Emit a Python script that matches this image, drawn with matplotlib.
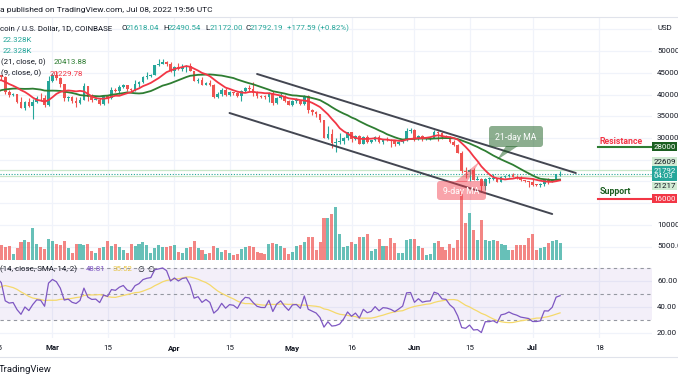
import numpy as np
import pandas as pd
import matplotlib
matplotlib.use("Agg")
import matplotlib.pyplot as plt
import matplotlib.transforms as mtransforms
from matplotlib.patches import FancyBboxPatch, Polygon
from matplotlib.lines import Line2D

plt.rcParams['font.family'] = ['Roboto', 'DejaVu Sans']

# ---------------- data ----------------
# closes before the visible window (Jan 1 - Feb 15, 2022), used only to warm up indicators
warmup_closes = [47730, 47310, 46440, 45830, 43430, 43100, 41560, 41730, 41870, 41830,
                 42740, 43920, 42590, 43080, 43200, 43080, 42220, 42380, 41690, 40720,
                 36470, 35080, 36280, 36680, 36970, 36840, 37160, 37720, 38170, 37920,
                 38480, 38740, 36950, 37340, 41570, 41410, 42410, 43840, 44040, 44370,
                 43540, 42410, 42220, 42070, 42580, 44580]

first_date = '2022-02-16'

opens = [44580, 43950, 40540, 40000, 40100, 38370, 37020, 38260, 37260, 38330, 39220, 39120, 37710,
         43190, 44420, 43920, 42450, 39150, 39400, 38420, 38060, 38740, 41980, 39440, 38730, 38810,
         37790, 39670, 39290, 41120, 40920, 41770, 42240, 41260, 41000, 42370, 42890, 43960, 44330,
         44520, 46850, 47130, 47440, 47070,
         45530, 46280, 45820, 46410, 46580, 45500, 43170, 43440, 42270, 42760, 42160, 39530, 40080,
         41150, 39940, 40550, 40390, 39680, 40800, 41490, 41370, 40480, 39710, 39470, 39450, 40430,
         38110, 39240, 39740, 38600,
         37640, 38470, 38520, 37720, 39690, 36550, 36010, 35470, 34060, 30080, 31010, 28940, 29030,
         29280, 30100, 31300, 29860, 30420, 28700, 30300, 29180, 29430, 30300, 29090, 29650, 29540,
         29200, 28630, 29020, 29450, 31720,
         31790, 29800, 30450, 29700, 29860, 29910, 31370, 31130, 30200, 30110, 29090, 28420, 26580,
         22490, 22140, 22590, 20400, 20460, 19000, 20580, 20580, 20720, 19970, 21100, 21230, 21500,
         21030, 20730, 20270, 20100,
         19940, 19250, 19240, 19300, 20230, 20200, 20550, 21618.04]

highs = [44580, 44190, 40980, 40450, 40140, 39480, 38440, 39250, 38970, 39700, 40300, 39850, 44230,
         44950, 45400, 44100, 42530, 39630, 39680, 39550, 39360, 42600, 42040, 40240, 39350, 39300,
         39920, 39870, 41710, 41470, 42320, 42400, 42300, 41540, 43360, 43020, 44220, 45100, 44800,
         46910, 48190, 48100, 47700, 47600,
         46690, 47180, 47030, 46880, 47200, 45510, 43900, 43960, 42800, 43420, 42420, 40690, 41540,
         41500, 40860, 40700, 40600, 41100, 41760, 42200, 42980, 40800, 39970, 39930, 40620, 40790,
         39450, 40370, 39920, 38800,
         38680, 39150, 38650, 39980, 39840, 36650, 36140, 35500, 34250, 32650, 32170, 30020, 31080,
         30300, 31430, 31300, 30770, 30660, 30520, 30750, 29620, 30470, 30660, 29830, 30200, 29870,
         29380, 29230, 29560, 32200, 32390,
         31970, 30670, 30670, 29950, 30170, 31760, 31560, 31330, 30700, 30380, 29440, 28560, 26900,
         23330, 22770, 22990, 21330, 20760, 20800, 21040, 21720, 20870, 21220, 21530, 21600, 21850,
         21520, 21190, 20420, 20140,
         20870, 19420, 19620, 20320, 20700, 20650, 21810, 22490.54]

lows = [43320, 40130, 39450, 39640, 38000, 36800, 36350, 37050, 34320, 38010, 38600, 37030, 37450,
        42830, 43340, 41840, 38600, 38600, 38080, 37160, 37880, 38660, 38540, 38230, 38660, 37590,
        37580, 38120, 38940, 40530, 40200, 41530, 40910, 40520, 40890, 41770, 42570, 43600, 44080,
        44420, 46650, 46940, 46570, 45210,
        44230, 45680, 45540, 45130, 45360, 43100, 42730, 42110, 42130, 42000, 39200, 39260, 39570,
        39580, 39770, 40010, 39560, 38540, 40580, 40850, 39760, 39180, 39300, 39000, 38200, 37700,
        37880, 38880, 38180, 37590,
        37390, 38050, 37520, 37680, 35860, 35280, 34780, 33720, 30030, 29730, 27700, 26700, 28700,
        28630, 29480, 29090, 29480, 28660, 28680, 28740, 28950, 29240, 28890, 28640, 29310, 28020,
        28240, 28480, 28790, 29290, 31200,
        29310, 29580, 29280, 29470, 29510, 29890, 29230, 29850, 29960, 28870, 28100, 26560, 21940,
        20840, 20110, 20250, 20250, 17620, 18000, 19650, 20350, 19790, 19900, 20770, 20920, 20960,
        20510, 20190, 19850, 18630,
        18980, 18980, 18750, 19050, 19300, 19770, 20260, 21172.00]

closes = [43950, 40540, 40000, 40100, 38370, 37020, 38260, 37260, 38330, 39220, 39120, 37710, 43190,
          44420, 43920, 42450, 39150, 39400, 38420, 38060, 38740, 41980, 39440, 38730, 38810, 37790,
          39670, 39290, 41120, 40920, 41770, 42240, 41260, 41000, 42370, 42890, 43960, 44330, 44520,
          46850, 47130, 47440, 47070, 45530,
          46280, 45820, 46410, 46580, 45500, 43170, 43440, 42270, 42760, 42160, 39530, 40080, 41150,
          39940, 40550, 40390, 39680, 40800, 41490, 41370, 40480, 39710, 39470, 39450, 40430, 38110,
          39240, 39740, 38600, 37640,
          38470, 38520, 37720, 39690, 36550, 36010, 35470, 34060, 30080, 31010, 28940, 29030, 29280,
          30100, 31300, 29860, 30420, 28700, 30300, 29180, 29430, 30300, 29090, 29650, 29540, 29200,
          28630, 29020, 29450, 31720, 31790,
          29800, 30450, 29700, 29860, 29910, 31370, 31130, 30200, 30110, 29090, 28420, 26580, 22490,
          22140, 22590, 20400, 20460, 19000, 20580, 20580, 20720, 19970, 21100, 21230, 21500, 21030,
          20730, 20270, 20100, 19940,
          19250, 19240, 19300, 20230, 20200, 20550, 21620, 21792.19]

# volume, thousands of BTC
volumes = [19, 17, 18, 7, 15, 23, 26, 23, 41, 21, 17, 14, 27,
           24, 20, 19, 24, 15, 8, 20, 21, 19, 21, 11, 8, 15, 16, 24, 18, 20, 16, 12, 9, 21, 18, 21,
           23, 19, 9, 15, 19, 17, 16, 18,
           19, 10, 9, 15, 16, 25, 15, 12, 7, 8, 18, 15, 10, 12, 9, 6, 7, 14, 16, 18, 17, 10, 9, 7,
           21, 22, 21, 18, 15, 7,
           10, 18, 19, 23, 29, 29, 12, 23, 55, 54, 60, 69, 34, 16, 18, 23, 20, 29, 29, 34, 11, 14,
           27, 18, 18, 28, 22, 8, 8, 26, 27,
           27, 18, 15, 6, 7, 22, 25, 17, 13, 20, 15, 26, 90, 48, 61, 39, 26, 52, 26, 24, 26, 24, 21,
           19, 13, 13, 19, 19, 19, 28,
           34, 13, 15, 17, 22, 24, 26, 22.328]

time_tick_dates = ['2022-02-15', '2022-03-01', '2022-03-15', '2022-04-01', '2022-04-15', '2022-05-01',
                   '2022-05-16', '2022-06-01', '2022-06-15', '2022-07-01', '2022-07-18']
time_tick_labels = ['15', 'Mar', '15', 'Apr', '15', 'May', '16', 'Jun', '15', 'Jul', '18']
price_ticks = [50000, 45000, 40000, 35000, 30000, 10000, 5000]
price_tick_labels = ['50000', '45000', '40000', '35000', '30000', '10000', '5000.0']
rsi_ticks = [60, 40, 20]

# drawn channel lines (date, price)
upper_channel = [('2022-04-22', 44750), ('2022-07-12', 21935)]
lower_channel = [('2022-04-15', 35760), ('2022-07-06', 12490)]
resistance_level = 28000
support_level = 16000
level_lines = [22609, 21217]
last_price = 21792.19

# ---------------- layout ----------------
W, H = 678, 381
fig = plt.figure(figsize=(W / 100, H / 100), dpi=100)
fig.patch.set_facecolor('white')
PX = mtransforms.Affine2D().scale(1 / W, -1 / H).translate(0, 1) + fig.transFigure

X0, DX = 1.3, 3.935          # pixel of first day, pixels per day
PANE_R = 652
MAIN_T, MAIN_B = 17, 259.5
RSI_B = 338
Y30K, PXPU = 138, 0.00434     # price scale: pixel of 30000, pixels per USD
RSI50, PXR = 294, 1.3

start = pd.Timestamp(first_date)
days = np.arange(len(closes), dtype=float)
xlim = ((0 - X0) / DX, (PANE_R - X0) / DX)


def rect(top, bottom):
    return [0, 1 - bottom / H, PANE_R / W, (bottom - top) / H]


ax_vol = fig.add_axes(rect(MAIN_T, MAIN_B))
ax = fig.add_axes(rect(MAIN_T, MAIN_B))
ax_rsi = fig.add_axes(rect(MAIN_B, RSI_B))
for a in (ax_vol, ax, ax_rsi):
    a.set_axis_off()
    a.set_xlim(*xlim)
ax_vol.set_zorder(1)
ax.set_zorder(2)
ax_rsi.set_zorder(1)

ax.set_ylim(30000 - (MAIN_B - Y30K) / PXPU, 30000 + (Y30K - MAIN_T) / PXPU)
ax_vol.set_ylim(0, (MAIN_B - MAIN_T) / 0.76)
ax_rsi.set_ylim(50 - (RSI_B - RSI50) / PXR, 50 + (RSI50 - MAIN_B) / PXR)

GRID = '#f0f3fa'
tick_days = [(pd.Timestamp(d) - start).days for d in time_tick_dates]
for d in tick_days:
    ax_vol.axvline(d, color=GRID, lw=0.9, zorder=0)
    ax_rsi.axvline(d, color=GRID, lw=0.9, zorder=0)
hgrid_tr = mtransforms.blended_transform_factory(ax_vol.transAxes, ax.transData)
for p in range(5000, 60000, 5000):
    ax_vol.plot([0, 1], [p, p], transform=hgrid_tr, color=GRID, lw=0.9, zorder=0)

# ---------------- volume ----------------
up = np.array(closes) >= np.array(opens)
TEAL, RED = '#26a69a', '#ef5350'
vol_colors = [TEAL if u else RED for u in up]
ax_vol.bar(days, volumes, width=0.78, color=vol_colors, alpha=0.7, zorder=2, linewidth=0)

# ---------------- candles ----------------
o = np.array(opens); c = np.array(closes); h = np.array(highs); l = np.array(lows)
cand_colors = np.where(up, TEAL, RED)
ax.vlines(days, l, h, colors=cand_colors, lw=0.8, zorder=3)
body_h = np.maximum(np.abs(c - o), 180)
ax.bar(days, body_h, bottom=np.minimum(o, c), width=0.68, color=cand_colors, zorder=3, linewidth=0)

# moving averages
all_close = pd.Series(list(warmup_closes) + list(closes), dtype=float)
n0 = len(warmup_closes)
all_days = np.arange(len(all_close)) - n0
ma9 = all_close.rolling(9).mean().values
ma21 = all_close.rolling(21).mean().values
vis = all_days >= -1
ax.plot(all_days[vis], ma21[vis], color='#2e7d32', lw=1.3, zorder=4)
ax.plot(all_days[vis], ma9[vis], color='#f23645', lw=1.3, zorder=4)

# level lines
for lv in level_lines:
    ax.axhline(lv, color='#c8e6c9', lw=0.9, zorder=2)
ax.axhline(last_price, color=TEAL, lw=0.8, ls=(0, (1, 1.5)), zorder=2)


def dday(s):
    return (pd.Timestamp(s) - start).days


for chan in (upper_channel, lower_channel):
    ax.plot([dday(chan[0][0]), dday(chan[1][0])], [chan[0][1], chan[1][1]],
            color='#434651', lw=1.4, zorder=5, solid_capstyle='round')

# resistance / support
x_lv0, x_lv1 = (598 - X0) / DX, (651 - X0) / DX
ax.plot([x_lv0, x_lv1], [resistance_level] * 2, color='#2e7d32', lw=1.5, zorder=5, clip_on=False)
ax.plot([x_lv0, x_lv1], [support_level] * 2, color='#f23645', lw=1.5, zorder=5, clip_on=False)
fig.text(599.5, 141, 'Resistance', transform=PX, color='#f23645', fontsize=6.3, fontweight='bold',
         va='center', ha='left', zorder=10)
fig.text(599.5, 191.5, 'Support', transform=PX, color='#1b5e20', fontsize=6.3, fontweight='bold',
         va='center', ha='left', zorder=10)

# callouts
def callout(x0, y0, x1, y1, tail, color, alpha, label):
    box = FancyBboxPatch((x0, y0), x1 - x0, y1 - y0, boxstyle='round,pad=0,rounding_size=3',
                         transform=PX, fc=color, ec='none', alpha=alpha, zorder=20)
    fig.patches.append(box)
    tri = Polygon(tail, closed=True, transform=PX, fc=color, ec='none', alpha=alpha, zorder=20)
    fig.patches.append(tri)
    fig.text((x0 + x1) / 2, (y0 + y1) / 2 + 0.5, label, transform=PX, color='white', fontsize=6.3,
             ha='center', va='center', zorder=21)


callout(489, 126, 543, 147, [(506, 146), (518, 146), (497, 160)], '#1b5e20', 0.5, '21-day MA')
callout(437, 181, 486, 200, [(455, 182), (467, 182), (480, 161)], '#f23645', 0.45, '9-day MA')

# ---------------- RSI ----------------
def rsi_wilder(series, n=14):
    cc = np.asarray(series, float)
    d = np.diff(cc)
    g = np.where(d > 0, d, 0.0)
    ls = np.where(d < 0, -d, 0.0)
    out = np.full(len(cc), np.nan)
    ag, al = g[:n].mean(), ls[:n].mean()
    out[n] = 100 - 100 / (1 + ag / al)
    for i in range(n, len(d)):
        ag = (ag * (n - 1) + g[i]) / n
        al = (al * (n - 1) + ls[i]) / n
        out[i + 1] = 100 - 100 / (1 + ag / al) if al > 0 else 100.0
    return out


rsi = rsi_wilder(all_close)
rsi_ma = pd.Series(rsi).rolling(14).mean().values
ax_rsi.axhspan(30, 70, color='#7e57c2', alpha=0.09, lw=0, zorder=1)
for lv in rsi_ticks:
    ax_rsi.axhline(lv, color=GRID, lw=0.9, zorder=0)
for lv in (70, 50, 30):
    ax_rsi.axhline(lv, color='#9598a1', lw=0.8, ls=(0, (3, 3)), zorder=2)
ax_rsi.plot(all_days[vis], rsi_ma[vis], color='#f5d96b', lw=0.9, zorder=3)
ax_rsi.plot(all_days[vis], rsi[vis], color='#7e57c2', lw=0.9, zorder=4)

# ---------------- texts ----------------
TXT = '#131722'
FS = 5.7
fig.add_artist(Line2D([0, 1], [1 - 17 / H] * 2, transform=fig.transFigure, color='#e0e3eb', lw=0.8))
fig.add_artist(Line2D([0, 1], [1 - 357 / H] * 2, transform=fig.transFigure, color='#e0e3eb', lw=0.8))
fig.text(-0.5, 10, 'a published on TradingView.com, Jul 08, 2022 19:56 UTC', transform=PX,
         color=TXT, fontsize=6.0, va='center')

fig.text(-0.5, 28, 'coin / U.S. Dollar, 1D, COINBASE', transform=PX, color=TXT, fontsize=FS, va='center')
ohlc = [('O', '21618.04', 121.5), ('H', '22490.54', 163), ('L', '21172.00', 205), ('C', '21792.19', 245)]
for lab, val, xp in ohlc:
    fig.text(xp, 28, lab, transform=PX, color=TXT, fontsize=FS, va='center')
    fig.text(xp + 4.6, 28, val, transform=PX, color=TEAL, fontsize=FS, va='center')
fig.text(287, 28, '+177.59 (+0.82%)', transform=PX, color=TEAL, fontsize=FS, va='center')
fig.text(3, 40, '22.328K', transform=PX, color=TEAL, fontsize=FS, va='center')
fig.text(3, 51, '22.328K', transform=PX, color=TEAL, fontsize=FS, va='center')
fig.text(1, 62.5, '(21, close, 0)', transform=PX, color=TXT, fontsize=FS, va='center')
fig.text(54, 62.5, '20413.88', transform=PX, color='#2e7d32', fontsize=FS, va='center')
fig.text(1, 73.5, '(9, close, 0)', transform=PX, color=TXT, fontsize=FS, va='center')
fig.text(50, 73.5, '20229.78', transform=PX, color='#f23645', fontsize=FS, va='center')

fig.text(0, 269, '(14, close, SMA, 14, 2)', transform=PX, color=TXT, fontsize=FS, va='center')
fig.text(86, 269, '48.81', transform=PX, color='#7e57c2', fontsize=FS, va='center')
fig.text(112.5, 269, '35.52', transform=PX, color='#e8c547', fontsize=FS, va='center')
fig.text(137, 269, '\u2205', transform=PX, color=TXT, fontsize=FS, va='center',
         family=['DejaVu Sans'])
fig.text(147.5, 269, '\u2205', transform=PX, color=TXT, fontsize=FS, va='center',
         family=['DejaVu Sans'])

# price scale
price_tr = mtransforms.blended_transform_factory(PX, ax.transData)
fig.text(657, 28, 'USD', transform=PX, color=TXT, fontsize=FS, va='center')
for p, lab in zip(price_ticks, price_tick_labels):
    fig.text(657, p, lab, transform=price_tr, color=TXT, fontsize=FS, va='center')
rsi_tr = mtransforms.blended_transform_factory(PX, ax_rsi.transData)
for r in rsi_ticks:
    fig.text(657, r, f'{r:.2f}', transform=rsi_tr, color=TXT, fontsize=FS, va='center')


def pbox(y, txt, fc, tc, tr=PX, ls=1.0):
    fig.text(653.5, y, txt, transform=tr, color=tc, fontsize=FS, va='center', ha='left', linespacing=ls,
             bbox=dict(boxstyle='square,pad=0.18', fc=fc, ec='none'), zorder=30)


pbox(resistance_level, '28000', '#1b5e20', 'white', price_tr)
pbox(161.5, '22609', '#d1ebd3', TXT)
pbox(173.5, '21792\n04:03', TEAL, 'white', ls=0.95)
pbox(186, '21217', '#d1ebd3', TXT)
pbox(support_level, '16000', '#f23645', 'white', price_tr)

# time axis
time_tr = mtransforms.blended_transform_factory(ax_rsi.transData, PX)
for d, lab in zip(tick_days, time_tick_labels):
    bold = not lab.isdigit()
    fig.text(d, 348, lab, transform=time_tr, color=TXT, fontsize=FS, ha='center', va='center',
             fontweight='bold' if bold else 'normal')

fig.text(-1.5, 369, 'TradingView', transform=PX, color=TXT, fontsize=6.8, va='center')

fig.savefig('out.png', dpi=100, facecolor='white')
